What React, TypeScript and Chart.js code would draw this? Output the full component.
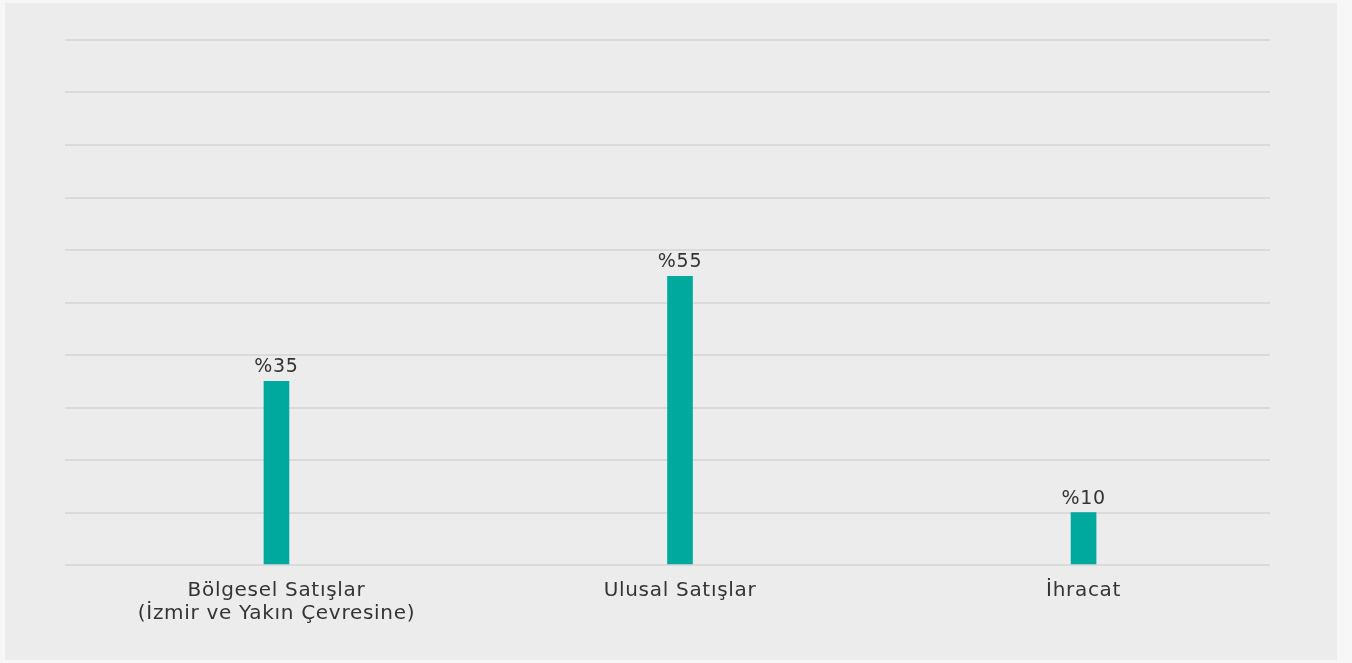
import React, { useEffect, useRef } from "react";
import { Chart, registerables } from "chart.js";

Chart.register(...registerables);

const categories: string[][] = [
  ["Bölgesel Satışlar", "(İzmir ve Yakın Çevresine)"],
  ["Ulusal Satışlar"],
  ["İhracat"],
];
const values: number[] = [35, 55, 10];
const yMin = 0;
const yMax = 100;
const yStep = 10;

const TEXT_COLOR = "#343434";
const BAR_COLOR = "#00a99d";
const GRID_COLOR = "#dadada";
const FONT_FAMILY = "'DejaVu Sans', sans-serif";
const LETTER_SPACING = "0.7px";

const spacing = {
  id: "spacing",
  beforeUpdate(chart: any) {
    chart.ctx.letterSpacing = LETTER_SPACING;
  },
  beforeDraw(chart: any) {
    chart.ctx.letterSpacing = LETTER_SPACING;
  },
};

const valueLabels = {
  id: "valueLabels",
  afterDatasetsDraw(chart: any) {
    const ctx = chart.ctx;
    const meta = chart.getDatasetMeta(0);
    ctx.save();
    ctx.letterSpacing = LETTER_SPACING;
    ctx.font = `19px ${FONT_FAMILY}`;
    ctx.fillStyle = TEXT_COLOR;
    ctx.textAlign = "center";
    ctx.textBaseline = "alphabetic";
    meta.data.forEach((el: any, i: number) => {
      ctx.fillText(`%${values[i]}`, el.x, el.y - 9);
    });
    ctx.restore();
  },
};

export default function App() {
  const ref = useRef<HTMLCanvasElement | null>(null);

  useEffect(() => {
    document.body.style.margin = "0";
    document.body.style.background = "#f7f7f7";
    if (!ref.current) return;
    const chart = new Chart(ref.current, {
      type: "bar",
      data: {
        datasets: [
          {
            data: values.map((v, i) => ({ x: i, y: v })),
            backgroundColor: BAR_COLOR,
            barThickness: 25,
            borderWidth: 0,
          },
        ],
      },
      options: {
        animation: false,
        responsive: true,
        maintainAspectRatio: false,
        layout: { padding: { left: 60, right: 67, top: 37, bottom: 0 } },
        plugins: {
          legend: { display: false },
          tooltip: { enabled: false },
        },
        scales: {
          x: {
            type: "linear",
            min: -0.524,
            max: 2.462,
            offset: false,
            grid: { display: false, drawTicks: false },
            border: { display: false },
            afterBuildTicks: (s: any) => {
              s.ticks = categories.map((_, i) => ({ value: i }));
            },
            afterFit: (s: any) => {
              s.height = 95;
            },
            ticks: {
              autoSkip: false,
              maxRotation: 0,
              padding: 14,
              color: TEXT_COLOR,
              font: { family: FONT_FAMILY, size: 20, lineHeight: 1.17 },
              callback: (v: any) => categories[Math.round(Number(v))] ?? "",
            },
          },
          y: {
            min: yMin,
            max: yMax,
            grid: { color: GRID_COLOR, lineWidth: 2, drawTicks: false },
            border: { display: false },
            ticks: { display: false, stepSize: yStep },
          },
        },
      },
      plugins: [spacing, valueLabels],
    } as any);
    return () => chart.destroy();
  }, []);

  return (
    <div
      style={{
        position: "absolute",
        left: 5,
        top: 3,
        width: 1332,
        height: 657,
        background: "#ececec",
      }}
    >
      <canvas ref={ref} />
    </div>
  );
}
